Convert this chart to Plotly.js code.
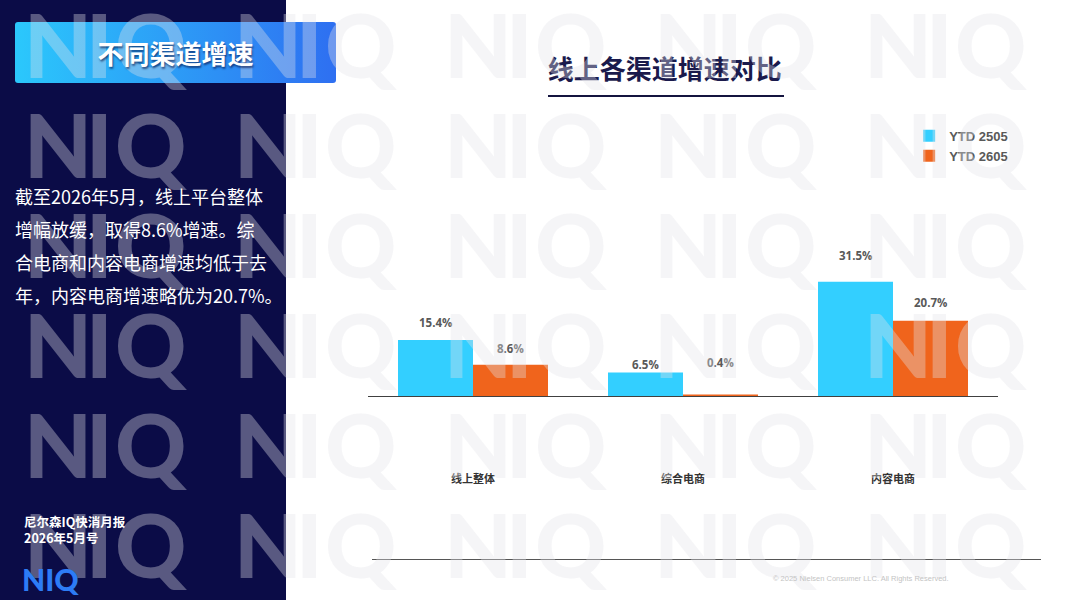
<!DOCTYPE html>
<html><head><meta charset="utf-8">
<script src="https://cdn.plot.ly/plotly-3.0.1.min.js"></script>
<style>
html,body{margin:0;padding:0;}
body{width:1067px;height:600px;position:relative;overflow:hidden;background:#fff;font-family:"Noto Sans CJK SC",sans-serif;}
#panel{position:absolute;left:0;top:0;width:286px;height:600px;background:#0b0c47;z-index:1}
#chart{position:absolute;left:0;top:0;width:1067px;height:600px;z-index:2}
#tbox{position:absolute;left:15px;top:22px;width:321px;height:61px;border-radius:3px;background:linear-gradient(90deg,#2bc8fc,#2e6ff1);z-index:3}
#ttext{position:absolute;left:15px;top:22px;width:321px;height:61px;color:#fff;font-weight:bold;font-size:26px;line-height:61px;text-align:center;text-shadow:1px 2px 2px rgba(0,0,50,0.55);z-index:6}
#para{position:absolute;left:15px;top:180px;color:#fff;font-size:18px;line-height:33px;z-index:6;white-space:nowrap}
#foot{position:absolute;left:24px;top:514px;color:#fff;font-size:12.5px;font-weight:bold;line-height:16px;z-index:6;white-space:nowrap}
#rule{position:absolute;left:372px;top:559px;width:669px;height:1px;background:#555;z-index:3}
#uline{position:absolute;left:548px;top:95px;width:236px;height:2px;background:#14143f;z-index:3}
#wm{position:absolute;left:0;top:0;z-index:5;pointer-events:none}
#top{position:absolute;left:0;top:0;z-index:7;pointer-events:none}
</style></head>
<body>
<div id="panel"></div>
<div id="tbox"></div>
<div id="ttext">不同渠道增速</div>
<div id="para">截至2026年5月，线上平台整体<br>增幅放缓，取得8.6%增速。综<br>合电商和内容电商增速均低于去<br>年，内容电商增速略优为20.7%。</div>
<div id="foot">尼尔森IQ快消月报<br>2026年5月号</div>
<div id="chart"></div>
<div id="rule"></div>
<div id="uline"></div>
<svg id="wm" width="1067" height="600"></svg>
<svg id="top" width="1067" height="600">
  <text x="22" y="591" font-family="Lato" font-weight="900" font-size="30" fill="#2d7cf6">NIQ</text>
  <text x="773" y="581" font-family="Liberation Sans, Arial" font-size="7.5" fill="#c4c4c4">© 2025 Nielsen Consumer LLC. All Rights Reserved.</text>
</svg>
<script>
// ---- data ----
var categories = ['线上整体', '综合电商', '内容电商'];
var seriesNames = ['YTD 2505', 'YTD 2605'];
var ytd2505 = [15.4, 6.5, 31.5];
var ytd2605 = [8.6, 0.4, 20.7];

// ---- styling ----
var colors = ['#33cfff', '#f0641c'];
var labelNudge = [[18, 8, 26], [16, 32, 18]];  // px above bar top, per series

var seriesValues = [ytd2505, ytd2605];
var traces = seriesValues.map(function (vals, s) {
  return {
    type: 'bar', name: seriesNames[s], x: categories, y: vals,
    marker: {color: colors[s], line: {width: 0}},
    hoverinfo: 'none'
  };
});

var annotations = [];
seriesValues.forEach(function (vals, s) {
  vals.forEach(function (v, i) {
    annotations.push({
      x: categories[i], y: v, xref: 'x', yref: 'y',
      xshift: s === 0 ? -37.5 : 37.5, yshift: labelNudge[s][i],
      text: v.toFixed(1) + '%', showarrow: false,
      font: {family: 'Open Sans, sans-serif', size: 11.5, weight: 'bold', color: '#595959'}
    });
  });
});

var layout = {
  width: 1067, height: 600,
  margin: {l: 368, r: 69, t: 110, b: 204, pad: 0},
  paper_bgcolor: 'rgba(0,0,0,0)', plot_bgcolor: 'rgba(0,0,0,0)',
  barmode: 'group', bargap: 0.2857, bargroupgap: 0,
  showlegend: true,
  legend: {
    x: 0.859, y: 0.962, xanchor: 'left', yanchor: 'top',
    bgcolor: 'rgba(0,0,0,0)', tracegroupgap: 0, itemclick: false,
    font: {family: 'Liberation Sans, Arial, sans-serif', size: 13, weight: 'bold', color: '#595959'}
  },
  title: {
    text: '线上各渠道增速对比', xref: 'container', x: 0.623, xanchor: 'center',
    yref: 'container', y: 0.883, yanchor: 'middle',
    font: {family: 'Noto Sans CJK SC, sans-serif', size: 26, weight: 'bold', color: '#1a1a4c'}
  },
  xaxis: {
    type: 'category', range: [-0.5, 2.5], showline: true, linecolor: '#404040', linewidth: 1,
    ticks: '', showgrid: false, zeroline: false, ticklabelstandoff: 73,
    tickfont: {family: 'Noto Sans CJK SC, sans-serif', size: 11, weight: 'bold', color: '#333333'}
  },
  yaxis: {range: [0, 78.8], visible: false, showgrid: false, zeroline: false},
  annotations: annotations
};

Plotly.newPlot('chart', traces, layout, {displayModeBar: false, staticPlot: true});

// ---- watermark ----
var svgNS = 'http://www.w3.org/2000/svg';
var wm = document.getElementById('wm');
for (var r = 0; r < 6; r++) {
  for (var c = 0; c < 5; c++) {
    var bx = 30 + 210 * c, by = 78 + 100 * r;
    var t = document.createElementNS(svgNS, 'text');
    t.setAttribute('x', [bx - 6, bx + 56, bx + 85].join(' '));
    t.setAttribute('y', by);
    t.setAttribute('font-family', 'Lato');
    t.setAttribute('font-weight', '900');
    t.setAttribute('font-size', '88');
    t.setAttribute('fill', 'rgba(228,228,234,0.36)');
    t.textContent = 'NIQ';
    wm.appendChild(t);
  }
}
</script>
</body></html>
